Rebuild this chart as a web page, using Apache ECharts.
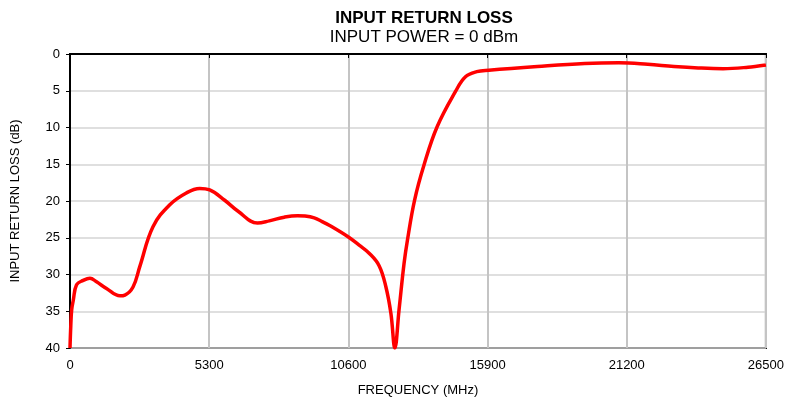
<!DOCTYPE html>
<html>
<head>
<meta charset="utf-8">
<script src="https://cdn.jsdelivr.net/npm/echarts@6/dist/echarts.min.js"></script>
<style>
html, body { margin: 0; padding: 0; background: #fff; }
#chart { width: 787px; height: 402px; }
</style>
</head>
<body>
<div id="chart"></div>
<script>
// frequency (MHz) and input return loss (dB)
var freq = [0, 30, 64, 125, 250, 500, 760, 1010, 1390, 1900, 2090, 2400, 2660, 3160, 3800, 4430,
    4940, 5320, 5890, 6400, 7140, 7590, 8160, 8660, 8950, 9300, 9600, 9870, 10600, 11010,
    11390, 11770, 12030, 12220, 12370, 12530, 12720, 12850, 13120, 13480, 13980, 14680,
    15060, 15490, 15950, 17800, 19600, 20900, 22000, 23000, 23920, 24870, 25820, 26500];
var loss = [40, 37, 34.8, 33.5, 31.4, 30.8, 30.5, 31, 31.9, 32.9, 32.8, 31.7, 28.9, 23.5, 20.5, 18.9,
    18.3, 18.5, 19.9, 21.4, 23.0, 22.7, 22.2, 22.0, 22.05, 22.3, 22.8, 23.3, 24.9, 26.0,
    27.1, 28.8, 31.7, 35.3, 40, 34.8, 28.5, 25.3, 19.9, 15.1, 9.9, 5.1,
    3.1, 2.4, 2.2, 1.7, 1.3, 1.2, 1.4, 1.7, 1.9, 2.0, 1.8, 1.5];
var xTicks = [0, 5300, 10600, 15900, 21200, 26500];

var points = [];
for (var i = 0; i < freq.length; i++) {
    points.push([freq[i], loss[i]]);
}

var myChart = echarts.init(document.getElementById('chart'));
var option = {
    animation: false,
    textStyle: { fontFamily: 'Liberation Sans, Arial, sans-serif' },
    title: {
        text: 'INPUT RETURN LOSS',
        subtext: 'INPUT POWER = 0 dBm',
        left: 419,
        textAlign: 'center',
        top: 5,
        itemGap: 2,
        textStyle: { fontSize: 17, fontWeight: 'bold', color: '#000', fontFamily: 'Liberation Sans, Arial, sans-serif' },
        subtextStyle: { fontSize: 17, color: '#000', fontFamily: 'Liberation Sans, Arial, sans-serif' }
    },
    grid: {
        left: 70,
        right: 19,
        top: 54,
        bottom: 54,
        show: true,
        borderColor: '#000',
        borderWidth: 2
    },
    xAxis: {
        type: 'value',
        min: 0,
        max: 26500,
        interval: 5300,
        name: 'FREQUENCY (MHz)',
        nameLocation: 'middle',
        nameGap: 36,
        nameTextStyle: { fontSize: 13, color: '#000' },
        axisLine: { show: true, lineStyle: { color: '#000', width: 2 } },
        axisTick: { show: true, length: 4, lineStyle: { color: '#000' } },
        axisLabel: { fontSize: 13, color: '#000', margin: 11,
            formatter: function (v) { return xTicks.indexOf(v) >= 0 ? String(v) : ''; } },
        splitLine: { show: true, lineStyle: { color: '#c4c4c4', width: 2 } }
    },
    yAxis: {
        type: 'value',
        inverse: true,
        min: 0,
        max: 40,
        interval: 5,
        name: 'INPUT RETURN LOSS (dB)',
        nameLocation: 'middle',
        nameGap: 48,
        nameRotate: 90,
        nameTextStyle: { fontSize: 13, color: '#000' },
        axisLine: { show: true, lineStyle: { color: '#000', width: 2 } },
        axisTick: { show: true, length: 4, lineStyle: { color: '#000' } },
        axisLabel: { fontSize: 13, color: '#000', margin: 10 },
        splitLine: { show: true, lineStyle: { color: '#d4d4d4', width: 1.5 } }
    },
    series: [{
        type: 'line',
        data: points,
        showSymbol: false,
        smooth: 0.4,
        clip: true,
        lineStyle: { color: '#ff0000', width: 3.5 }
    }]
};
myChart.setOption(option, true);
</script>
</body>
</html>
